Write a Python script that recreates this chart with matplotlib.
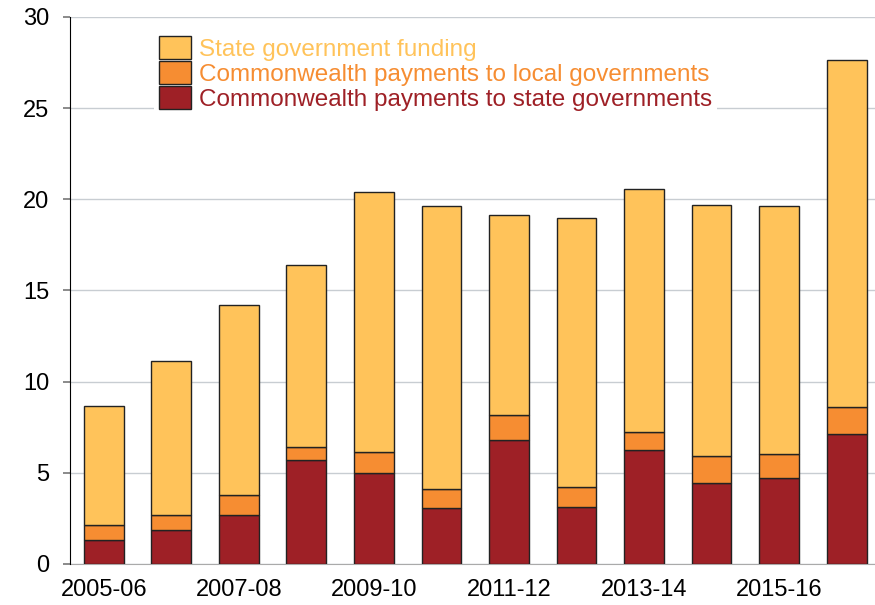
import matplotlib.pyplot as plt
import numpy as np

plt.rcParams['font.family'] = ['Liberation Sans', 'DejaVu Sans']

# Datos (miles de millones de dolares)
years = ['2005-06', '2006-07', '2007-08', '2008-09', '2009-10', '2010-11',
         '2011-12', '2012-13', '2013-14', '2014-15', '2015-16', '2016-17']
cw_state = [1.30, 1.84, 2.70, 5.67, 5.00, 3.05, 6.82, 3.14, 6.22, 4.42, 4.69, 7.15]
cw_local = [0.82, 0.82, 1.06, 0.75, 1.13, 1.07, 1.32, 1.06, 1.04, 1.51, 1.31, 1.48]
state_funding = [6.53, 8.45, 10.42, 9.95, 14.29, 15.53, 11.02, 14.79, 13.32, 13.77, 13.65, 19.01]

c_state = '#FFC35A'
c_local = '#F68D32'
c_cw = '#9E2026'

fig = plt.figure(figsize=(8.75, 6.05), dpi=100)
ax = fig.add_axes([0.08, 0.068, 0.92, 0.904])

x = np.arange(len(years))
w = 0.59
b1 = ax.bar(x, cw_state, w, color=c_cw, edgecolor='#222222', linewidth=1,
            label='Commonwealth payments to state governments', zorder=3)
b2 = ax.bar(x, cw_local, w, bottom=cw_state, color=c_local, edgecolor='#222222',
            linewidth=1, label='Commonwealth payments to local governments', zorder=3)
bottom2 = np.array(cw_state) + np.array(cw_local)
b3 = ax.bar(x, state_funding, w, bottom=bottom2, color=c_state, edgecolor='#222222',
            linewidth=1, label='State government funding', zorder=3)

ax.set_xlim(-0.5, 11.42)
ax.set_ylim(0, 30)
ax.set_yticks([0, 5, 10, 15, 20, 25, 30])
ax.set_xticks(x[::2])
ax.set_xticklabels(years[::2])
ax.yaxis.grid(True, color='#C8CDD2', linewidth=1, zorder=0)
ax.tick_params(axis='y', length=5, width=1.2, color='#777777', labelsize=17, pad=10)
ax.tick_params(axis='x', length=0, labelsize=17, pad=11)

for s in ['top', 'right']:
    ax.spines[s].set_visible(False)
ax.spines['bottom'].set_color('#AAAAAA')
ax.spines['left'].set_color('black')
ax.spines['left'].set_zorder(4)

leg = ax.legend(handles=[b3, b2, b1], loc='upper left', bbox_to_anchor=(0.089, 0.996),
                fontsize=17.5, frameon=True, edgecolor='none', facecolor='white',
                framealpha=1, handlelength=1.32, handleheight=1.1, labelspacing=0.0,
                handletextpad=0.33, borderpad=0.2, fancybox=False)
for txt, col in zip(leg.get_texts(), [c_state, c_local, c_cw]):
    txt.set_color(col)
leg.set_zorder(5)

plt.savefig('out.png', dpi=100)
